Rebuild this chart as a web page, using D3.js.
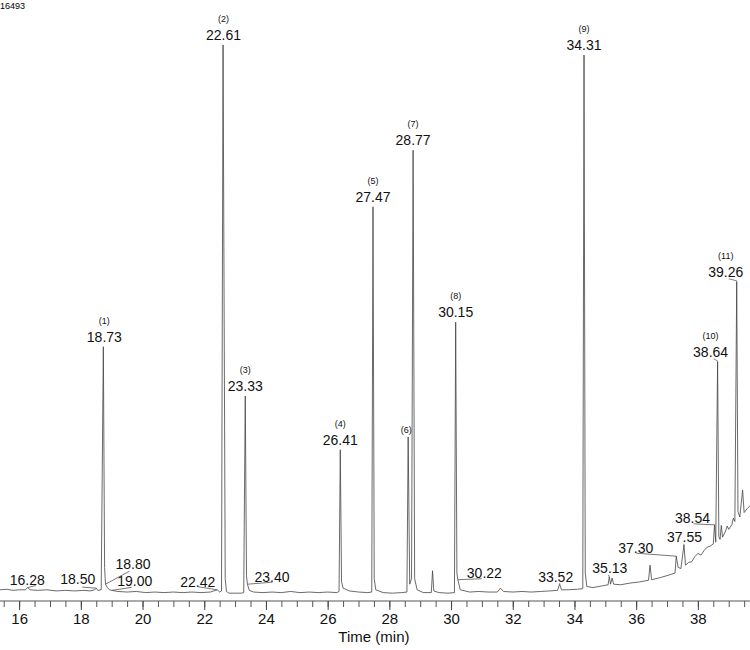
<!DOCTYPE html>
<html>
<head>
<meta charset="utf-8">
<script src="https://cdn.jsdelivr.net/npm/d3@7"></script>
<style>
	body { margin: 0; background: #fff; }
	svg { display: block; font-family: "Liberation Sans", Arial, sans-serif; }
</style>
</head>
<body>
<div id="chart"></div>
<script>
// chromatogram trace (time in min, relative signal)
var traceTime = [15.38,15.6,15.8,16.0,16.2,16.28,16.35,16.6,16.9,17.2,17.5,17.8,18.1,18.3,18.45,18.50,18.55,18.66,18.73,18.77,18.80,18.86,18.93,19.00,
	19.2,19.5,19.8,20.1,20.4,20.7,21.0,21.3,21.6,21.9,22.2,22.42,22.5,22.56,22.61,22.68,22.72,22.8,23.0,23.2,23.28,23.33,23.37,23.40,23.46,
	23.6,23.9,24.2,24.5,24.8,25.1,25.4,25.7,26.0,26.3,26.37,26.41,26.45,26.5,26.7,27.0,27.3,27.43,27.47,27.51,27.56,27.8,28.1,28.4,28.57,
	28.61,28.66,28.72,28.77,28.82,28.9,29.1,29.36,29.40,29.44,29.6,29.9,30.11,30.15,30.19,30.22,30.3,30.6,30.9,31.2,31.5,31.6,31.7,32.0,
	32.3,32.6,32.9,33.2,33.45,33.52,33.58,33.8,34.1,34.27,34.31,34.35,34.4,34.6,34.9,35.09,35.13,35.17,35.22,35.27,35.5,35.8,36.1,36.4,
	36.45,36.5,36.8,37.1,37.26,37.30,37.36,37.45,37.55,37.6,37.7,37.8,37.9,38.0,38.1,38.2,38.3,38.4,38.5,38.54,38.58,38.64,38.68,38.72,
	38.76,38.8,38.9,38.95,39.0,39.1,39.15,39.2,39.26,39.3,39.36,39.45,39.5,39.6,39.69];
var traceSignal = [2.0,2.1,1.9,2.0,2.0,2.4,2.0,1.9,2.0,1.8,1.9,1.8,1.9,1.8,2.0,2.3,1.9,2.0,45.4,6.0,3.0,2.4,2.0,1.9,
	1.7,1.6,1.7,1.5,1.6,1.5,1.6,1.5,1.6,1.5,1.6,2.0,1.6,1.8,99.3,4.0,1.7,1.4,1.4,1.4,1.5,36.6,4.5,3.0,1.9,
	1.6,1.5,1.6,1.5,1.7,1.5,1.6,1.5,1.6,1.5,1.7,27.0,3.5,2.3,1.8,1.6,1.5,1.6,70.4,4.0,2.0,1.5,1.4,1.5,1.6,
	29.3,3.0,4.0,80.5,4.0,2.0,1.5,1.5,5.4,1.8,1.5,1.4,1.5,49.8,5.0,3.8,2.0,1.6,1.7,1.6,1.6,2.3,1.7,1.6,
	1.7,1.6,1.7,1.8,1.9,3.0,2.0,2.0,2.1,2.2,97.5,5.0,2.6,2.4,2.7,2.9,4.3,3.0,4.1,3.0,2.9,3.2,3.4,3.7,
	6.4,3.8,4.2,4.7,5.0,8.0,6.0,5.8,10.0,6.4,6.9,7.0,7.9,8.5,8.2,9.0,9.6,9.8,10.2,13.6,10.5,42.7,11.5,11.0,
	13.5,11.4,12.5,13.4,12.8,13.6,14.8,14.2,57.0,16.0,15.0,19.8,15.8,16.5,17.0];

// labelled compounds
var peakTimes   = [18.73, 22.61, 23.33, 26.41, 27.47, 28.61, 28.77, 30.15, 34.31, 38.64, 39.26];
var peakHeights = [45.4, 99.3, 36.6, 27.0, 70.4, 29.3, 80.5, 49.8, 97.5, 42.7, 57.0];
var peakNumbers = ["(1)", "(2)", "(3)", "(4)", "(5)", "(6)", "(7)", "(8)", "(9)", "(10)", "(11)"];
var peakShowTime = [true, true, true, true, true, false, true, true, true, true, true];

// small integrated peaks
var minorTimes   = [16.28, 18.50, 18.80, 19.00, 22.42, 23.40, 30.22, 33.52, 35.13, 37.30, 37.55, 38.54];
var minorHeights = [2.4, 2.3, 3.0, 1.9, 2.0, 3.0, 3.8, 3.0, 4.3, 8.0, 10.0, 13.6];

var majorTicks = [16, 18, 20, 22, 24, 26, 28, 30, 32, 34, 36, 38];
var minorTicks = d3.range(15.5, 39.6, 0.5);
var scanLabel = "16493";

var chrom = {
	width: 750,
	height: 650,
	axis_y: 601,
	// text offsets of the small labels from their peak: [dx, dy, leader dx, leader dy]
	minor_layout: [
		[-18, -3, 8, -2], [-36, -4, -14, -1], [10, -15, 24, -13], [5.5, -4.5, 20, -3],
		[-37, -3, -19, -3], [7, -2, 25, -2], [9, -2, 24, -1], [-21.5, -2, 0, -1],
		[-17, -4, -1, -2], [-58, -3, -40, -3], [-17, -3, 0, -1], [-39.5, -2, -21, -1]
	],
	// horizontal shift of the big labels (kept inside the frame at the right)
	major_shift: [1, 0.5, 0, 0, 0, 0, 0, 0, 0, -7, -11],
	init: function() {
		chrom.svg = d3.select("#chart").append("svg")
			.attr("width", chrom.width)
			.attr("height", chrom.height);
		chrom.x = d3.scaleLinear().domain([15.38, 39.69]).range([0, chrom.width]);
		chrom.y = d3.scaleLinear().domain([0, 100]).range([chrom.axis_y, 41]);

		chrom.svg.append("text")
			.attr("x", 0).attr("y", 9)
			.style("font-size", "9px")
			.text(scanLabel);

		chrom.draw_axis();
		chrom.draw_trace();
		chrom.draw_labels();
	},
	draw_axis: function() {
		var svg = chrom.svg;
		svg.append("line")
			.attr("x1", 0).attr("x2", chrom.width)
			.attr("y1", chrom.axis_y).attr("y2", chrom.axis_y)
			.style("stroke", "#aaa").style("stroke-width", 2);

		var minor = svg.append("g")
			.attr("transform", "translate(0," + chrom.axis_y + ")")
			.call(d3.axisBottom(chrom.x).tickValues(minorTicks).tickSize(6).tickFormat(""));
		minor.select(".domain").remove();
		minor.selectAll(".tick line").style("stroke", "#555");

		var major = svg.append("g")
			.attr("transform", "translate(0," + chrom.axis_y + ")")
			.call(d3.axisBottom(chrom.x).tickValues(majorTicks).tickSize(9).tickPadding(3).tickFormat(d3.format("d")));
		major.select(".domain").remove();
		major.selectAll(".tick line").style("stroke", "#444");
		major.selectAll(".tick text")
			.style("font-size", "15px")
			.style("font-family", "Liberation Sans, Arial, sans-serif")
			.style("fill", "#111");

		svg.append("text")
			.attr("x", chrom.x(27.5)).attr("y", 642)
			.attr("text-anchor", "middle")
			.style("font-size", "15px").style("fill", "#111")
			.text("Time (min)");
	},
	draw_trace: function() {
		var pts = traceTime.map(function(t, i) { return [t, traceSignal[i]]; });
		var line = d3.line()
			.x(function(d) { return chrom.x(d[0]); })
			.y(function(d) { return chrom.y(d[1]); });
		chrom.svg.append("path")
			.datum(pts)
			.attr("d", line)
			.style("fill", "none")
			.style("stroke", "#444")
			.style("stroke-width", 0.8);
	},
	draw_labels: function() {
		var svg = chrom.svg;
		// big peaks
		peakTimes.forEach(function(t, i) {
			var px = chrom.x(t), py = chrom.y(peakHeights[i]);
			var cx = px + chrom.major_shift[i];
			if(peakShowTime[i]) {
				svg.append("text")
					.attr("x", cx).attr("y", py - 5)
					.attr("text-anchor", "middle")
					.style("font-size", "14px").style("fill", "#111")
					.text(t.toFixed(2));
				svg.append("text")
					.attr("x", cx).attr("y", py - 23)
					.attr("text-anchor", "middle")
					.style("font-size", "9px").style("fill", "#111")
					.text(peakNumbers[i]);
			}
			else {
				svg.append("text")
					.attr("x", px - 2).attr("y", py - 4)
					.attr("text-anchor", "middle")
					.style("font-size", "9px").style("fill", "#111")
					.text(peakNumbers[i]);
			}
			if(chrom.major_shift[i] < -2) {
				svg.append("polyline")
					.attr("points", [[cx + 3, py - 3], [px, py - 1], [px, py]].join(" "))
					.style("fill", "none").style("stroke", "#666").style("stroke-width", 0.8);
			}
		});
		// small peaks, text with a leader to the peak top
		minorTimes.forEach(function(t, i) {
			var px = chrom.x(t), py = chrom.y(minorHeights[i]);
			var lay = chrom.minor_layout[i];
			svg.append("line")
				.attr("x1", px + lay[2]).attr("y1", py + lay[3])
				.attr("x2", px).attr("y2", py)
				.style("stroke", "#555").style("stroke-width", 0.8);
			svg.append("text")
				.attr("x", px + lay[0]).attr("y", py + lay[1])
				.style("font-size", "14px").style("fill", "#111")
				.text(t.toFixed(2));
		});
	}
};

chrom.init();
</script>
</body>
</html>
